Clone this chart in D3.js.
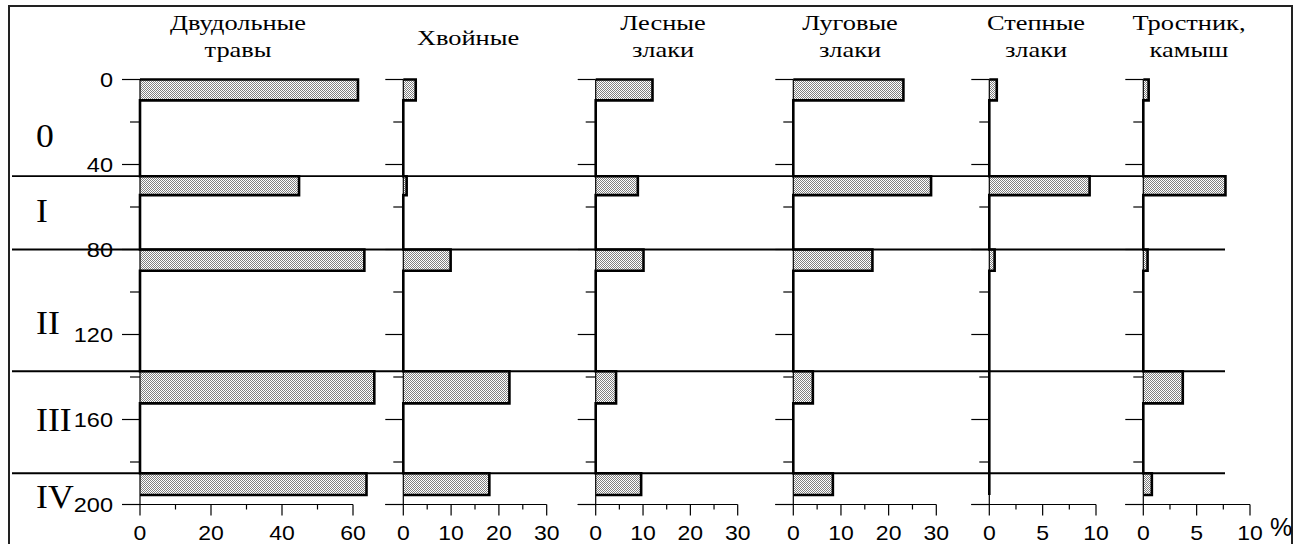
<!DOCTYPE html>
<html><head><meta charset="utf-8">
<script src="https://cdn.jsdelivr.net/npm/d3@7"></script>
<style>html,body{margin:0;padding:0;background:#fff;}svg{display:block;}</style>
</head><body>
<svg id="chart" width="1296" height="544"></svg>
<script>
// ---------- data ----------
const taxa = [["Двудольные","травы"],["Хвойные"],["Лесные","злаки"],["Луговые","злаки"],["Степные","злаки"],["Тростник,","камыш"]];
const sampleTop = [0, 45.5, 80, 137.3, 185.3];
const sampleBottom = [9.8, 54.4, 90, 152.4, 195.5];
const zoneBounds = [45.5, 80, 137.3, 185.3];
const zoneNames = ["0","I","II","III","IV"];
const dvudolnye = [61.4, 44.8, 63.2, 66.0, 63.8];
const khvoinye  = [2.6, 0.7, 9.9, 22.2, 18.0];
const lesnye    = [12.0, 8.9, 10.1, 4.3, 9.6];
const lugovye   = [23.1, 28.9, 16.6, 4.1, 8.3];
const stepnye   = [0.7, 9.4, 0.5, 0, 0];
const trostnik  = [0.5, 7.7, 0.4, 3.7, 0.8];
const depthMajor = [0,40,80,120,160,200];
const depthMinor = [20,60,100,140,180];
const xMajor = [[0,20,40,60],[0,10,20,30],[0,10,20,30],[0,10,20,30],[0,5,10],[0,5,10]];
const xMinor = [[10,30,50],[5,15,25],[5,15,25],[5,15,25],[2.5,7.5],[2.5,7.5]];
const seriesVals = [dvudolnye, khvoinye, lesnye, lugovye, stepnye, trostnik];

// ---------- layout ----------
const panelX0 = [140, 403.3, 595.7, 793.3, 989.3, 1143.3];
const panelX1 = [353, 546.7, 737.7, 936.3, 1096, 1250];
const headerX = [238, 468, 663, 850, 1036, 1189];
const zoneLabelY = [147, 222, 334, 431, 508];
const SX = 1.15;
const SERIF = "Liberation Serif, Times New Roman, serif";
const SANS = "Liberation Sans, Arial, sans-serif";

const svg = d3.select("#chart");
const defs = svg.append("defs");
const pat = defs.append("pattern").attr("id","dots").attr("patternUnits","userSpaceOnUse")
  .attr("width",2).attr("height",2);
pat.append("rect").attr("width",2).attr("height",2).attr("fill","#fff");
pat.append("rect").attr("x",0).attr("y",0).attr("width",1).attr("height",1).attr("fill","#808080").attr("shape-rendering","crispEdges");
pat.append("rect").attr("x",1).attr("y",1).attr("width",1).attr("height",1).attr("fill","#808080").attr("shape-rendering","crispEdges");

const y = d3.scaleLinear().domain([0,200]).range([79.5,504.5]);

// border
svg.append("rect").attr("x",9).attr("y",6).attr("width",1283).attr("height",600)
  .attr("fill","none").attr("stroke","#222").attr("stroke-width",2);

function stext(g, x, yy, str, size, family, anchor, sx){
  g.append("text").attr("transform",`translate(${x},${yy}) scale(${sx},1)`)
    .attr("text-anchor",anchor).attr("font-size",size).attr("font-family",family)
    .attr("fill","#000").text(str);
}

seriesVals.forEach((vals,p)=>{
  const max = xMajor[p][xMajor[p].length-1];
  const x = d3.scaleLinear().domain([0,max]).range([panelX0[p], panelX1[p]]);
  const g = svg.append("g");
  const x0 = x(0);
  // bars fill
  g.selectAll("rect.bar").data(vals).join("rect").attr("class","bar")
    .attr("x",x0).attr("y",(d,i)=>y(sampleTop[i]))
    .attr("width",d=>x(d)-x0).attr("height",(d,i)=>y(sampleBottom[i])-y(sampleTop[i]))
    .attr("fill","url(#dots)");
  // y axis thin line
  g.append("line").attr("x1",x0).attr("x2",x0).attr("y1",y(0)).attr("y2",y(200))
    .attr("stroke","#000").attr("stroke-width",1.2);
  // y ticks
  depthMajor.forEach(d=>g.append("line").attr("x1",x0-18).attr("x2",x0).attr("y1",y(d)).attr("y2",y(d)).attr("stroke","#000").attr("stroke-width",1.2));
  depthMinor.forEach(d=>g.append("line").attr("x1",x0-10).attr("x2",x0).attr("y1",y(d)).attr("y2",y(d)).attr("stroke","#000").attr("stroke-width",1.2));
  // x axis
  g.append("line").attr("x1",x0-18).attr("x2",x(max)).attr("y1",y(200)).attr("y2",y(200)).attr("stroke","#000").attr("stroke-width",1.2);
  xMajor[p].forEach(v=>{
    g.append("line").attr("x1",x(v)).attr("x2",x(v)).attr("y1",y(200)).attr("y2",y(200)+11).attr("stroke","#000").attr("stroke-width",1.2);
    stext(g, x(v), 540, String(v), 20, SANS, "middle", SX);
  });
  xMinor[p].forEach(v=>g.append("line").attr("x1",x(v)).attr("x2",x(v)).attr("y1",y(200)).attr("y2",y(200)+5).attr("stroke","#000").attr("stroke-width",1.2));
  // silhouette outline
  const pts = [];
  vals.forEach((v,i)=>{
    pts.push([x0,y(sampleTop[i])],[x(v),y(sampleTop[i])],[x(v),y(sampleBottom[i])],[x0,y(sampleBottom[i])]);
  });
  g.append("path").attr("d",d3.line()(pts)).attr("fill","none").attr("stroke","#000")
    .attr("stroke-width",2.6).attr("stroke-linejoin","miter");
  // header
  const lines = taxa[p];
  if(lines.length===2){
    stext(g, headerX[p], 30, lines[0], 22, SERIF, "middle", 1.2);
    stext(g, headerX[p], 57, lines[1], 22, SERIF, "middle", 1.2);
  } else {
    stext(g, headerX[p], 45, lines[0], 22, SERIF, "middle", 1.2);
  }
});

// depth labels (first panel)
depthMajor.forEach(d=>{
  svg.append("text").attr("transform",`translate(113,${y(d)}) scale(1.12,1)`)
    .attr("text-anchor","end").attr("dy","0.36em").attr("font-size",21)
    .attr("font-family",SANS).text(String(d));
});

// zone boundary lines
svg.selectAll("line.zone").data(zoneBounds).join("line").attr("class","zone")
  .attr("x1",12).attr("x2",1225).attr("y1",d=>y(d)).attr("y2",d=>y(d))
  .attr("stroke","#000").attr("stroke-width",1.8);

// zone labels
zoneNames.forEach((n,i)=>stext(svg, 36, zoneLabelY[i], n, 34, SERIF, "start", 1.05));

// percent sign
stext(svg, 1270, 536, "%", 25, SANS, "start", 1.0);
</script>
</body></html>
